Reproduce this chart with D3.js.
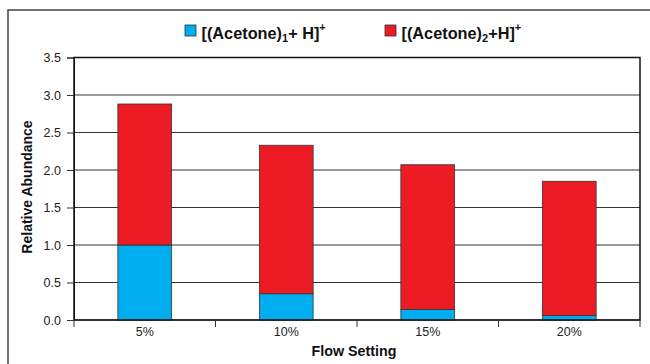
<!DOCTYPE html>
<html><head><meta charset="utf-8">
<script src="https://cdn.jsdelivr.net/npm/d3@7"></script>
<style>body{margin:0;background:#fff}svg{display:block}</style>
</head><body>
<script>
const categories = ["5%", "10%", "15%", "20%"];
const monomer = [1.00, 0.35, 0.14, 0.06];
const dimer = [1.88, 1.98, 1.93, 1.79];
const yTicks = [0, 0.5, 1.0, 1.5, 2.0, 2.5, 3.0, 3.5];
const seriesNames = ["monomer", "dimer"];
const colors = ["#00AEEF", "#ED1C24"];

const W = 650, H = 364;
const svg = d3.select("body").append("svg").attr("width", W).attr("height", H);
const font = "'Liberation Sans', Arial, sans-serif";

// outer frame
svg.append("rect").attr("x", 8).attr("y", 10).attr("width", 700).attr("height", 400)
  .attr("fill", "none").attr("stroke", "#444").attr("stroke-width", 1.5);

const x = d3.scaleBand().domain(categories).range([74, 640]).paddingInner(0.62).paddingOuter(0.31);
const y = d3.scaleLinear().domain([0, 3.5]).range([320, 57.5]);

// gridlines
svg.append("g").selectAll("line").data(yTicks).join("line")
  .attr("x1", 74).attr("x2", 640).attr("y1", d => y(d)).attr("y2", d => y(d))
  .attr("stroke", "#333").attr("stroke-width", 1);

const data = categories.map((c, i) => ({cat: c, monomer: monomer[i], dimer: dimer[i]}));
const stack = d3.stack().keys(seriesNames)(data);
svg.append("g").selectAll("g").data(stack).join("g").attr("fill", (d, i) => colors[i])
  .selectAll("rect").data(d => d).join("rect")
  .attr("x", d => x(d.data.cat)).attr("width", x.bandwidth())
  .attr("y", d => y(d[1])).attr("height", d => y(d[0]) - y(d[1]))
  .attr("stroke", "#333").attr("stroke-width", 0.8);

// plot frame
svg.append("rect").attr("x", 74).attr("y", 57.5).attr("width", 566).attr("height", 262.5)
  .attr("fill", "none").attr("stroke", "#111").attr("stroke-width", 1.5);

// y axis
const yAxis = d3.axisLeft(y).tickValues(yTicks).tickFormat(d3.format(".1f")).tickSize(7).tickPadding(6);
const gy = svg.append("g").attr("transform", "translate(74,0)").call(yAxis);
gy.select(".domain").attr("stroke", "#111");
gy.selectAll(".tick line").attr("stroke", "#333");
gy.selectAll("text").attr("font-family", font).attr("font-size", 12.5).attr("fill", "#222");

// x axis
const gx = svg.append("g").attr("transform", "translate(0,320)")
  .call(d3.axisBottom(x).tickSize(0).tickPadding(7));
gx.select(".domain").remove();
gx.selectAll("text").attr("font-family", font).attr("font-size", 12.5).attr("fill", "#222");
const edges = d3.range(categories.length + 1).map(i => 74 + i * (566 / categories.length));
svg.append("g").selectAll("line").data(edges).join("line")
  .attr("x1", d => d).attr("x2", d => d).attr("y1", 320).attr("y2", 327)
  .attr("stroke", "#333").attr("stroke-width", 1);

// axis titles
svg.append("text").attr("x", 354).attr("y", 356).attr("text-anchor", "middle")
  .attr("font-family", font).attr("font-weight", "bold").attr("font-size", 14.3).attr("fill", "#111")
  .text("Flow Setting");
svg.append("text").attr("transform", "translate(32,187) rotate(-90)").attr("text-anchor", "middle")
  .attr("font-family", font).attr("font-weight", "bold").attr("font-size", 14).attr("fill", "#111")
  .text("Relative Abundance");

// legend
const leg = [
  {x: 185, color: colors[0], parts: [["[(Acetone)", 0], ["1", -1], ["+ H]", 0], ["+", 1]]},
  {x: 385, color: colors[1], parts: [["[(Acetone)", 0], ["2", -1], ["+H]", 0], ["+", 1]]}
];
const lg = svg.append("g").selectAll("g").data(leg).join("g").attr("transform", d => `translate(${d.x},0)`);
lg.append("rect").attr("x", 0).attr("y", 25).attr("width", 11).attr("height", 11)
  .attr("fill", d => d.color).attr("stroke", "#333").attr("stroke-width", 0.8);
const lt = lg.append("text").attr("x", 16.5).attr("y", 39).attr("font-family", font)
  .attr("font-weight", "bold").attr("font-size", 16.3).attr("fill", "#111");
lt.selectAll("tspan").data(d => d.parts).join("tspan")
  .attr("font-size", p => p[1] === 0 ? 16.3 : 11)
  .attr("dy", (p, i, n) => {
    const prev = i > 0 ? n[i - 1].__data__[1] : 0;
    const off = v => v === -1 ? 3 : v === 1 ? -8 : 0;
    return off(p[1]) - off(prev);
  })
  .text(p => p[0]);
</script>
</body></html>
